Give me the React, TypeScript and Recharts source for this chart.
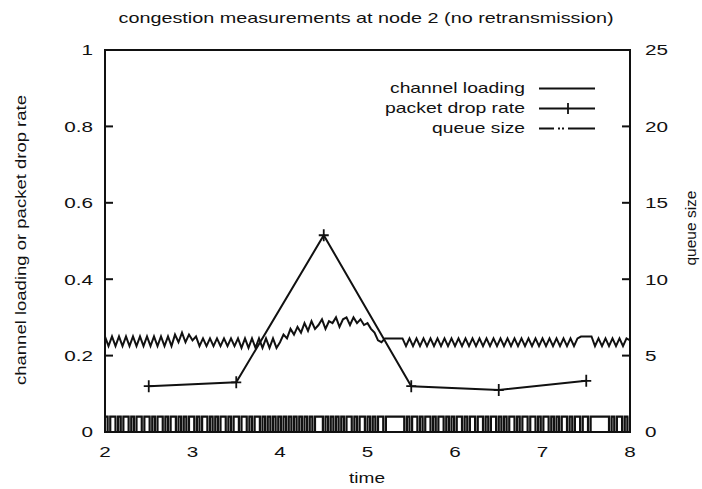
import { ComposedChart, Line, XAxis, YAxis, ReferenceArea } from 'recharts'

const FONT = '"Liberation Sans", Arial, Helvetica, sans-serif'
const INK = '#111'

// x axis
const timeTicks = [2, 3, 4, 5, 6, 7, 8]
const leftTicks = [0, 0.2, 0.4, 0.6, 0.8, 1]
const rightTicks = [0, 5, 10, 15, 20, 25]

// packet drop rate, one sample per time unit
const dropTimes = [2.5, 3.5, 4.5, 5.5, 6.5, 7.5]
const dropRate = [0.12, 0.13, 0.515, 0.12, 0.11, 0.134]

// channel loading, sampled every 0.04 from t = 2
const LOAD_T0 = 2
const LOAD_DT = 0.04
const channelLoading = [
  0.25, 0.225, 0.25, 0.225, 0.25, 0.225, 0.25, 0.225, 0.25, 0.225,
  0.25, 0.225, 0.25, 0.225, 0.25, 0.225, 0.25, 0.225, 0.25, 0.225,
  0.255, 0.235, 0.26, 0.235, 0.255, 0.24, 0.25, 0.225,
  0.245, 0.225, 0.245, 0.225, 0.245, 0.225, 0.245, 0.225, 0.245, 0.225,
  0.245, 0.22, 0.245, 0.22, 0.245, 0.22, 0.245, 0.22, 0.245, 0.22, 0.245, 0.22,
  0.235, 0.255, 0.245, 0.27, 0.255,
  0.275, 0.26, 0.285, 0.265, 0.29, 0.27, 0.28, 0.295, 0.27, 0.29,
  0.285, 0.3, 0.275, 0.295, 0.3, 0.28, 0.3, 0.285, 0.295, 0.28,
  0.285, 0.27, 0.26, 0.24, 0.235,
  0.245, 0.245, 0.245, 0.245, 0.245, 0.245,
  0.225, 0.245, 0.225, 0.245, 0.225, 0.245, 0.225, 0.245, 0.225, 0.245,
  0.225, 0.245, 0.225, 0.245, 0.225, 0.245, 0.225, 0.245, 0.225, 0.245,
  0.225, 0.245, 0.225, 0.245, 0.225, 0.245, 0.225, 0.245, 0.225, 0.245,
  0.225, 0.245, 0.225, 0.245, 0.225, 0.245, 0.225, 0.245, 0.225, 0.245,
  0.225, 0.245, 0.225, 0.245, 0.225, 0.245, 0.225, 0.245, 0.225, 0.245,
  0.25, 0.25, 0.25, 0.25,
  0.225, 0.245, 0.225, 0.245, 0.225, 0.245, 0.225, 0.245, 0.225, 0.245, 0.24,
]

// queue size, sampled every 0.03 from t = 2
const QUEUE_T0 = 2
const QUEUE_DT = 0.03
const queueSize = [
  1, 0, 1, 1, 0, 1, 0, 1, 1, 0,
  1, 0, 1, 1, 0, 1, 1, 0, 1, 0,
  1, 1, 0, 1, 0, 1, 1, 0, 1, 0,
  1, 0, 1, 1, 0, 1, 0, 1, 1, 0,
  1, 0, 1, 0, 1, 1, 0, 1, 0, 1,
  1, 0, 1, 1, 0, 1, 0, 1, 1, 0,
  1, 0, 1, 0, 1, 0, 1, 0, 1, 0,
  1, 0, 1, 0, 1, 0, 1, 0, 1, 0,
  1, 1, 1, 0, 1, 0, 1, 0, 1, 0,
  1, 0, 1, 1, 0, 1, 0, 1, 1, 0,
  1, 0, 1, 0, 1, 1, 0, 1, 1, 1,
  1, 1, 1, 1, 0, 1, 0, 1, 1, 0,
  1, 0, 1, 1, 0, 1, 0, 1, 1, 0,
  1, 0, 1, 0, 1, 1, 0, 1, 0, 1,
  1, 0, 1, 1, 0, 1, 0, 1, 1, 0,
  1, 0, 1, 0, 1, 1, 0, 1, 0, 1,
  1, 0, 1, 1, 0, 1, 0, 1, 1, 0,
  1, 0, 1, 0, 1, 1, 0, 1, 0, 1,
  1, 0, 1, 1, 0, 1, 1, 1, 1, 1,
  1, 1, 0, 1, 0, 1, 1, 0, 1, 0,
  1,
]

const dropData = dropTimes.map((t, i) => ({ t, v: dropRate[i] }))
const loadData = channelLoading.map((v, i) => ({ t: +(LOAD_T0 + i * LOAD_DT).toFixed(3), v }))
const queueData = queueSize.map((v, i) => ({ t: +(QUEUE_T0 + i * QUEUE_DT).toFixed(3), v }))

// plot frame (chart margins + axis sizes below)
const PLOT_L = 105
const PLOT_R = 630
const PLOT_T = 50
const PLOT_B = 432
const SX = 1.38

function LeftTick({ x, y, payload }: any) {
  return (
    <text
      transform={`translate(${x},${y}) scale(${SX},1)`}
      textAnchor="end"
      dy="0.36em"
      fontSize={15}
      fontFamily={FONT}
      fill={INK}
    >
      {String(payload.value)}
    </text>
  )
}

function RightTick({ x, y, payload }: any) {
  return (
    <text
      transform={`translate(${x},${y}) scale(${SX},1)`}
      textAnchor="start"
      dy="0.36em"
      fontSize={15}
      fontFamily={FONT}
      fill={INK}
    >
      {String(payload.value)}
    </text>
  )
}

function BottomTick({ x, y, payload }: any) {
  return (
    <text
      transform={`translate(${x},${y}) scale(${SX},1)`}
      textAnchor="middle"
      dy="0.36em"
      fontSize={15}
      fontFamily={FONT}
      fill={INK}
    >
      {String(payload.value)}
    </text>
  )
}

function PlusDot({ cx, cy, index }: any) {
  return (
    <path
      key={`p${index}`}
      d={`M${cx - 5},${cy}H${cx + 5}M${cx},${cy - 6}V${cy + 6}`}
      stroke={INK}
      strokeWidth={1.8}
      fill="none"
    />
  )
}

function Overlay() {
  const txt = { fontFamily: FONT, fontSize: 15, fill: INK }
  const h = PLOT_B - PLOT_T
  return (
    <svg
      width={702}
      height={489}
      style={{ position: 'absolute', left: 0, top: 0, pointerEvents: 'none' }}
    >
      {/* inward tick marks */}
      {leftTicks.map((v) => {
        const y = PLOT_B - v * h
        return <path key={`l${v}`} d={`M${PLOT_L},${y}H${PLOT_L + 8}`} stroke={INK} strokeWidth={2} />
      })}
      {rightTicks.map((v) => {
        const y = PLOT_B - (v / 25) * h
        return <path key={`r${v}`} d={`M${PLOT_R - 8},${y}H${PLOT_R}`} stroke={INK} strokeWidth={2} />
      })}

      <text {...txt} x={366} y={23} textAnchor="middle" textLength={495} lengthAdjust="spacingAndGlyphs">
        congestion measurements at node 2 (no retransmission)
      </text>
      <text {...txt} x={367} y={483} textAnchor="middle" textLength={36} lengthAdjust="spacingAndGlyphs">
        time
      </text>
      <text
        {...txt}
        transform="translate(26,240) rotate(-90)"
        textAnchor="middle"
        textLength={290}
        lengthAdjust="spacingAndGlyphs"
      >
        channel loading or packet drop rate
      </text>
      <text
        {...txt}
        transform="translate(696,228) rotate(-90)"
        textAnchor="middle"
        textLength={75}
        lengthAdjust="spacingAndGlyphs"
      >
        queue size
      </text>

      {/* legend */}
      <text {...txt} x={525} y={93} textAnchor="end" textLength={135} lengthAdjust="spacingAndGlyphs">
        channel loading
      </text>
      <line x1={539} x2={595} y1={88.5} y2={88.5} stroke={INK} strokeWidth={2} />
      <text {...txt} x={525} y={113} textAnchor="end" textLength={140} lengthAdjust="spacingAndGlyphs">
        packet drop rate
      </text>
      <line x1={539} x2={595} y1={108.5} y2={108.5} stroke={INK} strokeWidth={2} />
      <path d="M568,103V114" stroke={INK} strokeWidth={1.8} />
      <text {...txt} x={525} y={133} textAnchor="end" textLength={93} lengthAdjust="spacingAndGlyphs">
        queue size
      </text>
      <line
        x1={539}
        x2={595}
        y1={128.5}
        y2={128.5}
        stroke={INK}
        strokeWidth={2}
        strokeDasharray="15 4 2 2 2 4 30"
      />
    </svg>
  )
}

export default function App() {
  return (
    <div style={{ position: 'fixed', left: 0, top: 0, width: 702, height: 489, background: '#fff' }}>
      <ComposedChart
        width={702}
        height={489}
        margin={{ top: PLOT_T, right: 0, bottom: 0, left: 0 }}
      >
        <XAxis
          xAxisId="x"
          type="number"
          dataKey="t"
          domain={[2, 8]}
          ticks={timeTicks}
          allowDataOverflow
          height={489 - PLOT_B}
          axisLine={false}
          tickLine={false}
          tickSize={0}
          tickMargin={20}
          tick={<BottomTick />}
        />
        <YAxis
          yAxisId="left"
          domain={[0, 1]}
          ticks={leftTicks}
          width={PLOT_L}
          axisLine={false}
          tickLine={false}
          tickSize={0}
          tickMargin={12}
          tick={<LeftTick />}
          allowDataOverflow
        />
        <YAxis
          yAxisId="right"
          orientation="right"
          domain={[0, 25]}
          ticks={rightTicks}
          width={702 - PLOT_R}
          axisLine={false}
          tickLine={false}
          tickSize={0}
          tickMargin={15}
          tick={<RightTick />}
          allowDataOverflow
        />
        <Line
          xAxisId="x"
          yAxisId="right"
          data={queueData}
          dataKey="v"
          type="stepAfter"
          stroke={INK}
          strokeWidth={2.2}
          dot={false}
          isAnimationActive={false}
        />
        <Line
          xAxisId="x"
          yAxisId="left"
          data={loadData}
          dataKey="v"
          type="linear"
          stroke={INK}
          strokeWidth={2}
          dot={false}
          isAnimationActive={false}
        />
        <Line
          xAxisId="x"
          yAxisId="left"
          data={dropData}
          dataKey="v"
          type="linear"
          stroke={INK}
          strokeWidth={2}
          dot={<PlusDot />}
          isAnimationActive={false}
        />
        <ReferenceArea
          xAxisId="x"
          yAxisId="left"
          x1={2}
          x2={8}
          y1={0}
          y2={1}
          fill="none"
          stroke={INK}
          strokeWidth={2}
          ifOverflow="visible"
        />
      </ComposedChart>
      <Overlay />
    </div>
  )
}
